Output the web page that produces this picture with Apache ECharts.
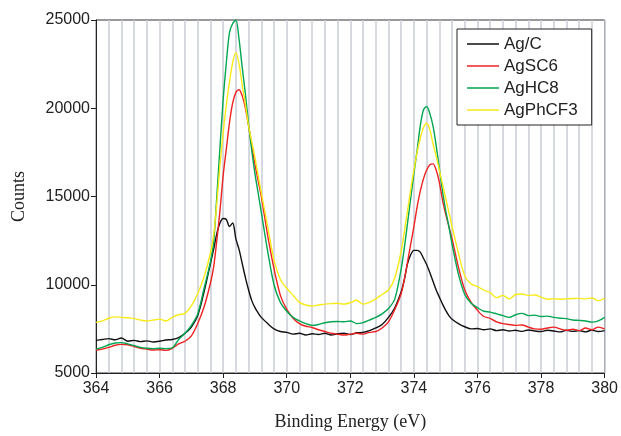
<!DOCTYPE html>
<html>
<head>
<meta charset="utf-8">
<script src="https://cdn.jsdelivr.net/npm/echarts@6/dist/echarts.min.js"></script>
<style>
  html, body { margin: 0; padding: 0; background: #fff; }
  #main { width: 621px; height: 436px; }
</style>
</head>
<body>
<div id="main"></div>
<script>
// binding energy (eV) sample points shared by all spectra
var energy = [
  364, 364.2, 364.4, 364.6, 364.8, 365, 365.2, 365.4, 365.6, 365.8, 366, 366.2, 366.4, 366.6, 366.8, 367, 367.2, 367.4,
  367.6, 367.7, 367.8, 367.9, 368, 368.1, 368.2, 368.3, 368.4, 368.5, 368.6, 368.7, 368.8, 368.9, 369, 369.1, 369.2,
  369.4, 369.6, 369.8, 370, 370.2, 370.4, 370.6, 370.8, 371, 371.2, 371.4, 371.6, 371.8, 372, 372.2, 372.4, 372.6, 372.8, 373, 373.2, 373.4,
  373.6, 373.7, 373.8, 373.9, 374, 374.1, 374.2, 374.3, 374.4, 374.5, 374.6, 374.7, 374.8, 374.9, 375, 375.1, 375.2,
  375.4, 375.6, 375.8, 376, 376.2, 376.4, 376.6, 376.8, 377, 377.2, 377.4, 377.6, 377.8, 378, 378.2, 378.4, 378.6, 378.8, 379, 379.2, 379.4, 379.6, 379.8, 380
];

var agC = [
  6850, 6900, 6950, 6880, 6980, 6800, 6850, 6780, 6820, 6760, 6800, 6870, 6900, 7000, 7250, 7600, 8250, 9600,
  11200, 12000, 12900, 13500, 13750, 13700, 13300, 13500, 12600, 12000, 11200, 10400, 9700, 9100, 8700, 8400, 8150,
  7800, 7500, 7350, 7300, 7200, 7250, 7150, 7220, 7180, 7250, 7150, 7220, 7250, 7180, 7280, 7300, 7400, 7550, 7750, 8150, 8700,
  9600, 10300, 11200, 11700, 11950, 11950, 11850, 11500, 11150, 10700, 10200, 9700, 9300, 8900, 8550, 8250, 8050,
  7800, 7620, 7500, 7520, 7450, 7500, 7400, 7450, 7380, 7420, 7360, 7440, 7380, 7350, 7420, 7380, 7330, 7420, 7360, 7400, 7330, 7430, 7350, 7400
];

var agSC6 = [
  6290, 6350, 6450, 6570, 6620, 6600, 6500, 6400, 6350, 6300, 6320, 6280, 6400, 6650, 6800, 7100, 7800, 8750,
  10100, 11000, 12500, 14200, 16200, 17700, 19200, 20300, 20900, 21050, 20700, 20000, 19000, 17900, 16800, 15900, 15000,
  12800, 10900, 9400, 8600, 8100, 7800, 7650, 7580, 7450, 7350, 7250, 7200, 7150, 7200, 7250, 7200, 7300, 7350, 7550, 7900, 8600,
  9500, 10300, 11300, 12300, 13300, 14400, 15300, 16000, 16500, 16800, 16850, 16500, 15800, 14800, 14000, 13300, 12600,
  11000, 9700, 9000, 8550, 8200, 8100, 7900, 7800, 7750, 7700, 7720, 7600, 7500, 7480, 7550, 7600, 7500, 7420, 7480, 7400, 7550, 7450, 7600, 7500
];

var agHC8 = [
  6350, 6450, 6600, 6700, 6720, 6650, 6550, 6450, 6400, 6380, 6400, 6380, 6420, 6900, 7250, 7700, 8350, 9800,
  11300, 12400, 15000, 17800, 20500, 22600, 24300, 24800, 25000, 23900, 22300, 20800, 19100, 17600, 16300, 15200, 14100,
  11900, 10000, 9000, 8500, 8150, 7950, 7800, 7700, 7750, 7850, 7900, 7920, 7900, 7950, 7800, 7850, 8000, 8150, 8350, 8650, 9200,
  10900, 12100, 13500, 14900, 16300, 17600, 19000, 19900, 20100, 19700, 19000, 17900, 16600, 15300, 14200, 13300, 12300,
  10600, 9450, 8950, 8700, 8500, 8450, 8350, 8250, 8150, 8300, 8380, 8250, 8280, 8200, 8220, 8150, 8100, 8080, 8000, 7980, 7950, 7880, 7950, 8150
];

var agPhCF3 = [
  7870, 7950, 8100, 8180, 8150, 8130, 8080, 8000, 7950, 8000, 8050, 7950, 8150, 8300, 8380, 8800, 9500, 10450,
  11800, 12800, 14600, 16800, 18600, 20200, 21500, 22600, 23150, 22500, 21300, 20200, 19000, 18100, 17200, 16200, 15200,
  13300, 11400, 10300, 9800, 9400, 9000, 8850, 8800, 8850, 8900, 8930, 8950, 8900, 8990, 9120, 8900, 9000, 9200, 9450, 9700, 10400,
  11900, 13000, 14200, 15400, 16500, 17500, 18300, 18900, 19150, 18800, 18000, 17300, 16500, 15700, 14900, 14100, 13300,
  11800, 10500, 10050, 9900, 9700, 9550, 9270, 9400, 9200, 9450, 9480, 9400, 9420, 9300, 9180, 9200, 9180, 9200, 9220, 9230, 9200, 9250, 9100, 9230
];

var seriesNames = ['Ag/C', 'AgSC6', 'AgHC8', 'AgPhCF3'];
var seriesValues = [agC, agSC6, agHC8, agPhCF3];
var seriesColors = ['#111111', '#ee2222', '#00a651', '#f7ea1a'];

function pairs(vals) {
  return energy.map(function (e, i) { return [e, vals[i]]; });
}

var myChart = echarts.init(document.getElementById('main'));

var labelFont = { fontFamily: 'Liberation Sans', fontSize: 16, color: '#222' };

var option = {
  animation: false,
  grid: {
    left: 96, right: 16, top: 20, bottom: 60,
    show: true, borderColor: '#333', borderWidth: 1
  },
  legend: {
    orient: 'vertical',
    left: 457, top: 29,
    padding: [6, 14, 6, 10],
    icon: 'rect',
    itemWidth: 32, itemHeight: 1.5, itemGap: 4,
    borderColor: '#222', borderWidth: 1,
    backgroundColor: '#fff',
    textStyle: { fontFamily: 'Liberation Sans', fontSize: 17, lineHeight: 18, color: '#222' },
    data: seriesNames
  },
  xAxis: [
    {
      type: 'value', min: 364, max: 380, interval: 2,
      name: 'Binding Energy (eV)', nameLocation: 'middle', nameGap: 40,
      nameTextStyle: { fontFamily: 'Liberation Serif', fontSize: 18, color: '#222' },
      axisLine: { show: true, lineStyle: { color: '#222', width: 1 } },
      axisTick: { show: true, inside: false, length: 5, lineStyle: { color: '#222' } },
      axisLabel: Object.assign({ margin: 8 }, labelFont),
      splitLine: { show: false }
    },
    {
      type: 'value', min: 364, max: 380, interval: 0.4, position: 'bottom',
      axisLine: { show: false }, axisTick: { show: false }, axisLabel: { show: false },
      splitLine: { show: true, lineStyle: { color: '#cacdd6', width: 1.5 } }
    }
  ],
  yAxis: {
    type: 'value', min: 5000, max: 25000, interval: 5000,
    name: 'Counts', nameLocation: 'middle', nameGap: 68,
    nameTextStyle: { fontFamily: 'Liberation Serif', fontSize: 18, color: '#222' },
    axisLine: { show: true, lineStyle: { color: '#222', width: 1 } },
    axisTick: { show: true, inside: false, length: 5, lineStyle: { color: '#222' } },
    axisLabel: Object.assign({ margin: 6, formatter: function (v) { return String(v); } }, labelFont),
    splitLine: { show: false }
  },
  series: seriesNames.map(function (n, i) {
    return {
      name: n, type: 'line', xAxisIndex: 0,
      symbol: 'none', smooth: 0.3,
      lineStyle: { color: seriesColors[i], width: 1.4 },
      itemStyle: { color: seriesColors[i] },
      data: pairs(seriesValues[i])
    };
  })
};

myChart.setOption(option);
</script>
</body>
</html>
